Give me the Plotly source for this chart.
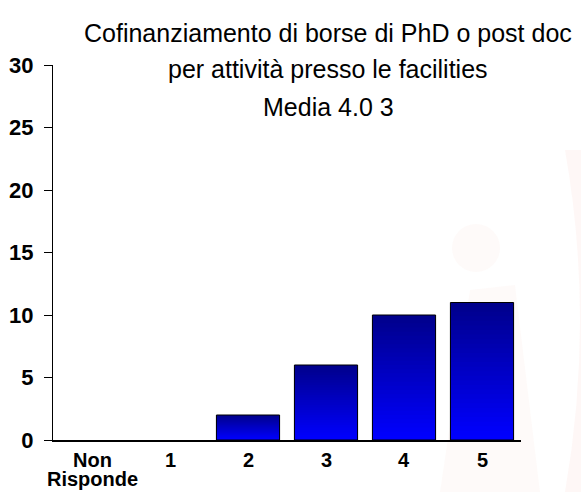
import plotly.graph_objects as go

categories = ["Non<br>Risponde", "1", "2", "3", "4", "5"]
counts = [0, 0, 2, 6, 10, 11]
y_ticks = [0, 5, 10, 15, 20, 25, 30]
title_lines = ["Cofinanziamento di borse di PhD o post doc",
               "per attività presso le facilities",
               "Media 4.0 3"]

W, H = 581, 492
ML, MR, MT, MB = 53, 60, 65, 52
PW, PH = W - ML - MR, H - MT - MB


def px_x(x):
    return (x - ML) / PW


def px_y(y):
    return (H - MB - y) / PH


fig = go.Figure()

shown = [v if v > 0 else None for v in counts]

# gradient bars: overlay of progressively shorter, brighter bars
N = 30
top = (0, 0, 140)
bot = (0, 0, 255)
for k in range(N):
    f = (N - k) / N
    t = k / (N - 1)
    c = tuple(int(round(top[i] + (bot[i] - top[i]) * t)) for i in range(3))
    fig.add_trace(go.Bar(
        x=categories, y=[v * f if v else None for v in shown], width=0.81,
        marker=dict(color=f"rgb{c}", line=dict(width=0)),
        hoverinfo="skip", showlegend=False))
# outline
fig.add_trace(go.Bar(
    x=categories, y=shown, width=0.81,
    marker=dict(color="rgba(0,0,0,0)", line=dict(color="black", width=1)),
    showlegend=False))

font = "Liberation Sans, Arial, sans-serif"

# faint watermark
shapes = [
    dict(type="circle", xref="paper", yref="paper",
         x0=px_x(452), x1=px_x(500), y0=px_y(272), y1=px_y(224),
         fillcolor="rgba(245,170,160,0.06)", line=dict(width=0), layer="below"),
    dict(type="path", xref="paper", yref="paper",
         path=f"M {px_x(440)},{px_y(492)} L {px_x(470)},{px_y(290)} L {px_x(515)},{px_y(285)} L {px_x(540)},{px_y(492)} Z",
         fillcolor="rgba(245,150,130,0.05)", line=dict(width=0), layer="below"),
    dict(type="path", xref="paper", yref="paper",
         path=f"M {px_x(565)},{px_y(150)} Q {px_x(595)},{px_y(320)} {px_x(565)},{px_y(492)} L {px_x(581)},{px_y(492)} L {px_x(581)},{px_y(150)} Z",
         fillcolor="rgba(240,120,100,0.06)", line=dict(width=0), layer="below"),
]

annotations = []
for line, ycen in zip(title_lines, [33, 69, 107]):
    annotations.append(dict(text=line, xref="paper", yref="paper",
                            x=px_x(328), y=px_y(ycen), xanchor="center", yanchor="middle",
                            showarrow=False, font=dict(family=font, size=25, color="black")))

# x category labels (tight line spacing as in the reference)
for cat in categories:
    for j, part in enumerate(cat.split("<br>")):
        annotations.append(dict(text=part, xref="x", yref="paper", x=cat,
                                y=px_y(460 + 19 * j), xanchor="center", yanchor="middle",
                                showarrow=False, borderpad=0,
                                font=dict(family=font, size=20, color="black", weight="bold")))

fig.update_layout(
    width=W, height=H,
    margin=dict(l=ML, r=MR, t=MT, b=MB, autoexpand=False),
    barmode="overlay",
    paper_bgcolor="white", plot_bgcolor="rgba(0,0,0,0)",
    shapes=shapes,
    annotations=annotations,
    xaxis=dict(type="category", categoryarray=categories, range=[-0.5, 5.5],
               showline=True, linecolor="black", linewidth=1.5,
               ticks="", showgrid=False, zeroline=False, showticklabels=False, automargin=False),
    yaxis=dict(range=[0, 30], tickvals=y_ticks, ticks="outside", ticklen=8, tickcolor="black",
               showline=True, linecolor="black", linewidth=1, showgrid=False, zeroline=False,
               automargin=False, ticklabelstandoff=6,
               tickfont=dict(family=font, size=22, color="black", weight="bold")),
)

fig.write_html("out.html", config={"displayModeBar": False},
               post_script="document.body.style.margin='0px';")
